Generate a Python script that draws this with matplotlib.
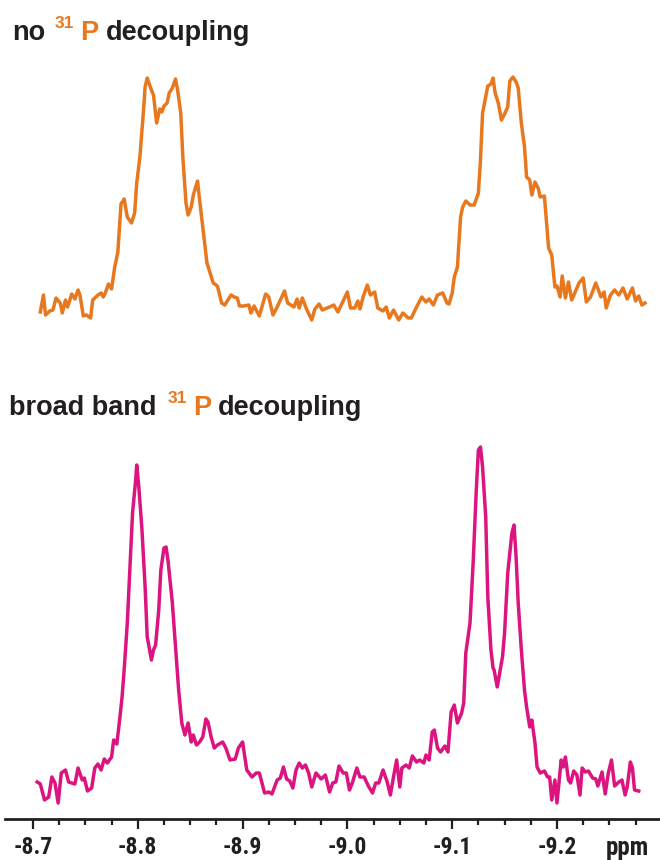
import matplotlib
matplotlib.use("Agg")
import matplotlib.pyplot as plt
import numpy as np

# 1H NMR traces (ppm, intensity above each trace's baseline)
ppm_coupled = [
    -8.707, -8.710, -8.712, -8.716, -8.719, -8.722, -8.726, -8.728, -8.731, -8.733,
    -8.737, -8.740, -8.743, -8.745, -8.748, -8.751, -8.755, -8.757, -8.760, -8.762,
    -8.765, -8.767, -8.769, -8.772, -8.775, -8.778, -8.781, -8.784, -8.787, -8.790,
    -8.794, -8.797, -8.799, -8.802, -8.805, -8.807, -8.809, -8.813, -8.815, -8.818,
    -8.821, -8.823, -8.825, -8.828, -8.830, -8.833, -8.836, -8.838, -8.841, -8.843,
    -8.846, -8.848, -8.851, -8.853, -8.857, -8.859, -8.862, -8.866, -8.869, -8.872,
    -8.876, -8.880, -8.883, -8.889, -8.892, -8.895, -8.897, -8.901, -8.906, -8.908,
    -8.911, -8.916, -8.922, -8.925, -8.929, -8.933, -8.940, -8.943, -8.949, -8.952,
    -8.954, -8.957, -8.961, -8.966, -8.969, -8.973, -8.976, -8.983, -8.987, -8.991,
    -8.995, -9.000, -9.003, -9.007, -9.010, -9.012, -9.015, -9.019, -9.022, -9.026,
    -9.029, -9.034, -9.037, -9.040, -9.044, -9.049, -9.053, -9.058, -9.061, -9.066,
    -9.071, -9.075, -9.078, -9.082, -9.086, -9.091, -9.095, -9.097, -9.100, -9.102,
    -9.105, -9.108, -9.110, -9.113, -9.117, -9.121, -9.125, -9.127, -9.129, -9.132,
    -9.134, -9.137, -9.139, -9.141, -9.144, -9.147, -9.150, -9.153, -9.155, -9.158,
    -9.161, -9.163, -9.166, -9.169, -9.171, -9.174, -9.176, -9.179, -9.182, -9.184,
    -9.188, -9.192, -9.195, -9.198, -9.200, -9.203, -9.205, -9.208, -9.211, -9.214,
    -9.217, -9.221, -9.225, -9.228, -9.232, -9.237, -9.242, -9.245, -9.247, -9.251,
    -9.255, -9.259, -9.263, -9.267, -9.272, -9.275, -9.278, -9.281, -9.284,
]
int_coupled = [
    -7, 10, -10, -6, -5, 7, 2, -8, 5, -2,
    11, 6, 15, 9, -11, -10, -13, 5, 8, 10,
    12, 8, 12, 21, 16, 38, 53, 101, 106, 88,
    82, 92, 122, 148, 188, 218, 227, 215, 210, 182,
    196, 193, 199, 202, 212, 217, 226, 215, 192, 148,
    102, 90, 98, 110, 124, 105, 78, 42, 32, 22,
    19, 2, 0, 10, 8, 7, -1, -1, 0, -8,
    -1, -11, 11, 8, -10, -2, 14, 2, -2, 6,
    -3, 7, -4, -15, -4, 1, -5, -2, 0, -7,
    2, 13, -3, -3, 4, -4, 8, 20, 10, 13,
    -3, -6, -2, -13, -5, -15, -8, -13, -13, -2,
    8, 3, 6, 0, 10, 12, 2, 1, 12, 28,
    38, 88, 98, 104, 100, 100, 112, 145, 192, 208,
    219, 221, 227, 212, 202, 185, 191, 198, 224, 228,
    223, 217, 182, 158, 128, 125, 110, 123, 117, 108,
    109, 57, 50, 18, 19, 8, 29, 7, 23, 5,
    12, 22, 27, 3, 8, 22, 8, 13, -3, 10,
    15, 10, 17, 6, 17, 4, 9, 0, 2,
]

ppm_decoupled = [
    -8.704, -8.707, -8.711, -8.715, -8.718, -8.721, -8.724, -8.727, -8.731, -8.734,
    -8.740, -8.743, -8.747, -8.749, -8.752, -8.756, -8.759, -8.762, -8.765, -8.768,
    -8.771, -8.775, -8.777, -8.780, -8.783, -8.785, -8.787, -8.790, -8.793, -8.795,
    -8.798, -8.799, -8.801, -8.804, -8.807, -8.809, -8.811, -8.813, -8.815, -8.817,
    -8.820, -8.822, -8.825, -8.827, -8.829, -8.833, -8.836, -8.839, -8.842, -8.845,
    -8.848, -8.851, -8.853, -8.856, -8.859, -8.862, -8.865, -8.867, -8.870, -8.873,
    -8.876, -8.881, -8.884, -8.888, -8.893, -8.896, -8.900, -8.904, -8.909, -8.913,
    -8.916, -8.921, -8.925, -8.928, -8.933, -8.936, -8.939, -8.942, -8.945, -8.948,
    -8.951, -8.954, -8.957, -8.960, -8.963, -8.966, -8.970, -8.975, -8.979, -8.983,
    -8.986, -8.989, -8.992, -8.996, -8.999, -9.002, -9.005, -9.009, -9.012, -9.016,
    -9.020, -9.024, -9.027, -9.030, -9.034, -9.038, -9.041, -9.044, -9.047, -9.050,
    -9.052, -9.056, -9.059, -9.062, -9.066, -9.069, -9.073, -9.075, -9.078, -9.081,
    -9.083, -9.086, -9.089, -9.093, -9.096, -9.099, -9.102, -9.105, -9.109, -9.111,
    -9.113, -9.117, -9.120, -9.123, -9.125, -9.127, -9.129, -9.132, -9.134, -9.137,
    -9.139, -9.140, -9.143, -9.145, -9.148, -9.150, -9.153, -9.155, -9.157, -9.159,
    -9.161, -9.163, -9.166, -9.169, -9.171, -9.174, -9.176, -9.179, -9.181, -9.184,
    -9.188, -9.191, -9.193, -9.195, -9.198, -9.200, -9.204, -9.206, -9.208, -9.211,
    -9.213, -9.216, -9.219, -9.222, -9.224, -9.227, -9.230, -9.234, -9.237, -9.239,
    -9.243, -9.246, -9.249, -9.252, -9.255, -9.259, -9.262, -9.265, -9.267, -9.270,
    -9.272, -9.274, -9.278,
]
int_decoupled = [
    -2, -4, -20, -17, 3, -3, -23, 7, 10, -2,
    -4, 12, 0, 2, -11, -8, 12, 16, 10, 21,
    17, 23, 40, 36, 63, 83, 110, 157, 223, 267,
    300, 315, 293, 250, 193, 143, 132, 120, 130, 135,
    170, 210, 232, 233, 218, 177, 133, 90, 57, 45,
    57, 38, 45, 35, 38, 43, 61, 58, 43, 32,
    35, 38, 32, 20, 21, 32, 38, 10, 3, 7,
    7, -13, -12, -14, 0, 2, 13, 1, -1, -8,
    10, 17, 12, 15, 7, -7, 7, 1, 5, -12,
    -3, -2, 14, 7, 7, -10, -2, 12, 3, 3,
    -6, -13, -3, -3, 10, -2, -15, 3, 20, -7,
    12, 15, 12, 24, 18, 20, 17, 25, 20, 48,
    50, 32, 28, 34, 28, 68, 75, 57, 67, 77,
    127, 157, 217, 290, 330, 333, 313, 263, 183, 130,
    112, 110, 93, 105, 123, 147, 207, 227, 247, 255,
    223, 177, 130, 90, 73, 53, 60, 37, 13, 7,
    9, 3, 3, -20, 0, -23, 20, 13, 23, 0,
    -3, 9, 5, -15, 12, 8, 9, 2, 1, -6,
    8, -14, 7, 20, -6, -2, 0, -15, -7, 18,
    12, -10, -11,
]

offset_coupled = 514
offset_decoupled = 39

major_ticks = [-8.7, -8.8, -8.9, -9.0, -9.1, -9.2]
minor_ticks = [-8.725, -8.75, -8.775, -8.825, -8.85, -8.875, -8.925, -8.95, -8.975,
               -9.025, -9.05, -9.075, -9.125, -9.15, -9.175, -9.225, -9.25, -9.275]
tick_labels = ["-8.7", "-8.8", "-8.9", "-9.0", "-9.1", "-9.2"]

ORANGE = "#e8781e"
MAGENTA = "#dc1480"
INK = "#231f20"
NARROW = ["Roboto Condensed", "DejaVu Sans"]
HEAD = ["Liberation Sans", "DejaVu Sans"]

W, H = 660, 860
fig = plt.figure(figsize=(W / 100, H / 100), dpi=100)
ax = fig.add_axes([5 / W, 41 / H, 655 / W, 819 / H])

ax.plot(ppm_coupled, np.array(int_coupled) + offset_coupled, color=ORANGE, lw=2.5,
        solid_joinstyle="round")
ax.plot(ppm_decoupled, np.array(int_decoupled) + offset_decoupled, color=MAGENTA, lw=2.5,
        solid_joinstyle="round")

ax.set_xlim(-8.6733, -9.2983)
ax.set_ylim(0, 819)

for side in ("left", "top", "right"):
    ax.spines[side].set_visible(False)
ax.spines["bottom"].set_color(INK)
ax.spines["bottom"].set_linewidth(2.0)
ax.set_yticks([])

ax.set_xticks(major_ticks)
ax.set_xticks(minor_ticks, minor=True)
ax.set_xticklabels(tick_labels)
ax.tick_params(axis="x", which="major", length=7, width=1.6, color=INK, pad=5,
               labelsize=17)
ax.tick_params(axis="x", which="minor", length=4, width=1.6, color=INK)
for lbl in ax.get_xticklabels():
    lbl.set_family(NARROW)
    lbl.set_fontweight("bold")
    lbl.set_color(INK)

fig.text(606 / W, 1 - 855 / H, "ppm", ha="left", va="baseline", fontsize=18,
         fontweight="bold", color=INK, family=NARROW)


def heading(pieces, baseline):
    """Bold heading; each piece is (x, text, colour, size, raise in px)."""
    for x, txt, col, size, lift in pieces:
        fig.text(x / W, 1 - (baseline - lift) / H, txt, ha="left", va="baseline",
                 color=col, fontsize=size, fontweight="bold", family=HEAD)


heading([(12, "no", INK, 19.5, 0), (55, "31", ORANGE, 12.5, 12),
         (80, "P", ORANGE, 19.5, 0), (106, "decoupling", INK, 19.5, 0)], 40.5)
heading([(9, "broad band", INK, 19.5, 0), (168, "31", ORANGE, 12.5, 12),
         (193, "P", ORANGE, 19.5, 0), (218, "decoupling", INK, 19.5, 0)], 415)

fig.savefig("out.png", dpi=100)
